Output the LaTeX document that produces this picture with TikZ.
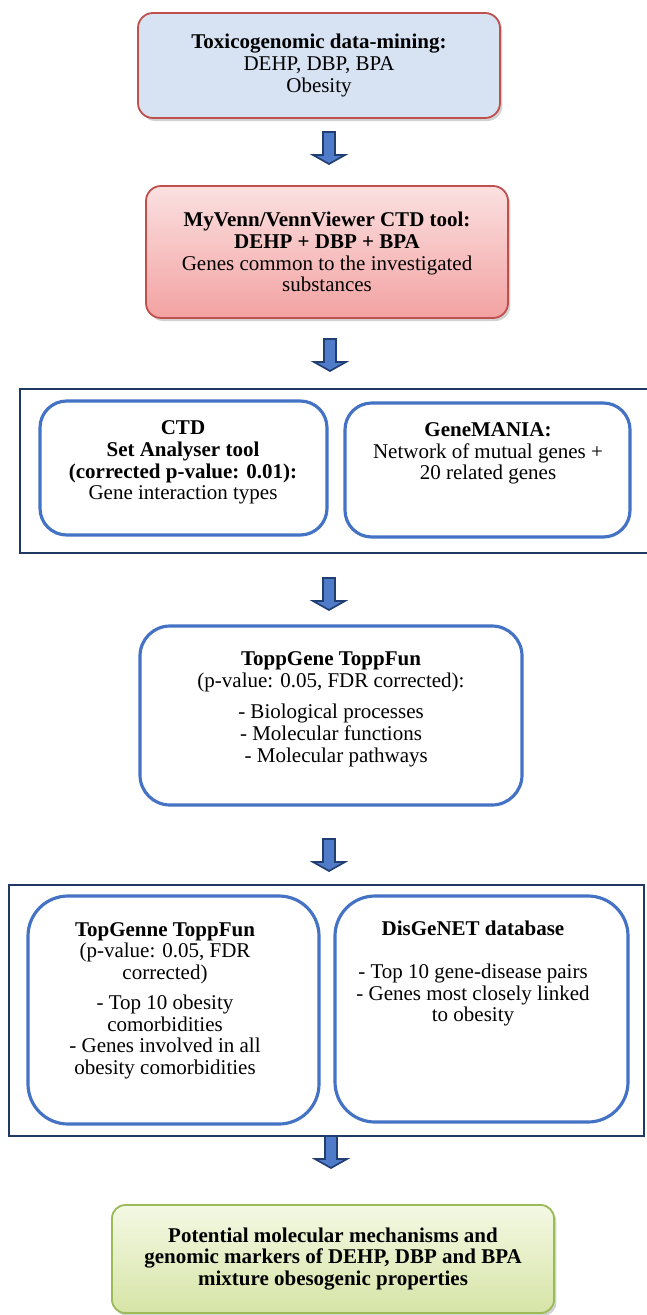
\documentclass[tikz,border=0pt]{standalone}
\usepackage{fontspec}
\setmainfont{Liberation Serif}
\usetikzlibrary{positioning,shadows}

\definecolor{boxred}{HTML}{C0504D}
\definecolor{paleblue}{HTML}{D7E3F3}
\definecolor{pinktop}{HTML}{FBE0E0}
\definecolor{pinkbot}{HTML}{F3A2A2}
\definecolor{stepblue}{HTML}{4472C4}
\definecolor{navy}{HTML}{1F3864}
\definecolor{arrowblue}{HTML}{4F7BC8}
\definecolor{arrowline}{HTML}{213E72}
\definecolor{greenline}{HTML}{9BBB59}
\definecolor{greentop}{HTML}{F4F9E4}
\definecolor{greenbot}{HTML}{D6E4A6}

\tikzset{
  txt/.style={align=center, inner sep=0pt, font=\fontsize{12.6}{13}\selectfont},
  shadowed/.style={drop shadow={shadow xshift=1.4pt, shadow yshift=-1.8pt, fill=black!35}},
  redbox/.style={txt, draw=boxred, line width=1.1pt, rounded corners=9pt, shadowed},
  bluebox/.style={txt, draw=stepblue, line width=1.9pt, rounded corners=#1},
  bluebox/.default=16pt,
  setframe/.style={draw=navy, line width=1.1pt},
  greenbox/.style={txt, draw=greenline, line width=1.1pt, rounded corners=8pt, shadowed,
    top color=greentop, bottom color=greenbot},
  blockarrow/.style={draw=arrowline, fill=arrowblue, line width=1pt, line join=miter}
}

% block arrow pointing down, #1 = top centre of the shaft
\newcommand{\downblock}[1]{%
  \filldraw[blockarrow] (#1) ++(-6,0) -- ++(0,23) -- ++(-10,0) -- ++(16,9)
    -- ++(16,-9) -- ++(-10,0) -- ++(0,-23) -- cycle;}

\begin{document}
\begin{tikzpicture}[x=0.6pt, y=-0.6pt]
  \useasboundingbox (0,0) rectangle (646,1315);

  % input
  \node[redbox, fill=paleblue, minimum width=217.2pt, minimum height=63pt] (mining) at (319,65.5)
    {\textbf{Toxicogenomic data-mining:}\\ DEHP, DBP, BPA\\ Obesity};
  \node[redbox, top color=pinktop, bottom color=pinkbot, minimum width=217.2pt, minimum height=79.2pt] (venn) at (327,252)
    {\textbf{MyVenn/VennViewer CTD tool:}\\ \textbf{DEHP + DBP + BPA}\\ Genes common to the investigated\\ substances};

  % interaction analysis
  \node[setframe, minimum width=378pt, minimum height=98.4pt] (setA) at (335,471) {};
  \node[bluebox, minimum width=172.2pt, minimum height=80.4pt] (ctd) at (183.5,468) {};
  \node[txt] (ctd-text) at (183,462.5)
    {\textbf{CTD}\\ \textbf{Set Analyser tool}\\ \textbf{(corrected p-value: 0.01):}\\ Gene interaction types};
  \node[bluebox, minimum width=171pt, minimum height=80.4pt] (gmania) at (487.5,470) {};
  \node[txt] (gmania-text) at (488,453.5)
    {\textbf{GeneMANIA:}\\ Network of mutual genes +\\ 20 related genes};

  % enrichment
  \node[bluebox=18pt, minimum width=229.2pt, minimum height=107.4pt] (topp) at (331,715.5) {};
  \node[txt] (topp-text) at (331,709)
    {\textbf{ToppGene ToppFun}\\ (p-value: 0.05, FDR corrected):\\[6pt]
     - Biological processes\\ - Molecular functions\\ \ \ - Molecular pathways};

  % disease analysis
  \node[setframe, minimum width=381pt, minimum height=150.6pt] (setB) at (326.5,1010.5) {};
  \node[bluebox=24pt, minimum width=174.6pt, minimum height=136.8pt] (comorb) at (173.5,1010) {};
  \node[txt] (comorb-text) at (165,1000.5)
    {\textbf{TopGenne ToppFun}\\ (p-value: 0.05, FDR\\ corrected)\\[5pt]
     - Top 10 obesity\\ comorbidities\\ - Genes involved in all\\ obesity comorbidities};
  \node[bluebox=24pt, minimum width=175.8pt, minimum height=135.6pt] (disgenet) at (481.5,1009) {};
  \node[txt] (disgenet-text) at (473,973.5)
    {\textbf{DisGeNET database}\\[13pt] - Top 10 gene-disease pairs\\ - Genes most closely linked\\ to obesity};

  % result
  \node[greenbox, minimum width=265.2pt, minimum height=64.8pt] (result) at (333,1259)
    {\textbf{Potential molecular mechanisms and}\\ \textbf{genomic markers of DEHP, DBP and BPA}\\ \textbf{mixture obesogenic properties}};

  % arrows
  \coordinate (a1) at (329,132);
  \coordinate (a2) at (330,339);
  \coordinate (a3) at (329,578);
  \coordinate (a4) at (329,839);
  \coordinate (a5) at (331,1136);
  \foreach \a in {a1,a2,a3,a4,a5} {\downblock{\a}}
\end{tikzpicture}
\end{document}
